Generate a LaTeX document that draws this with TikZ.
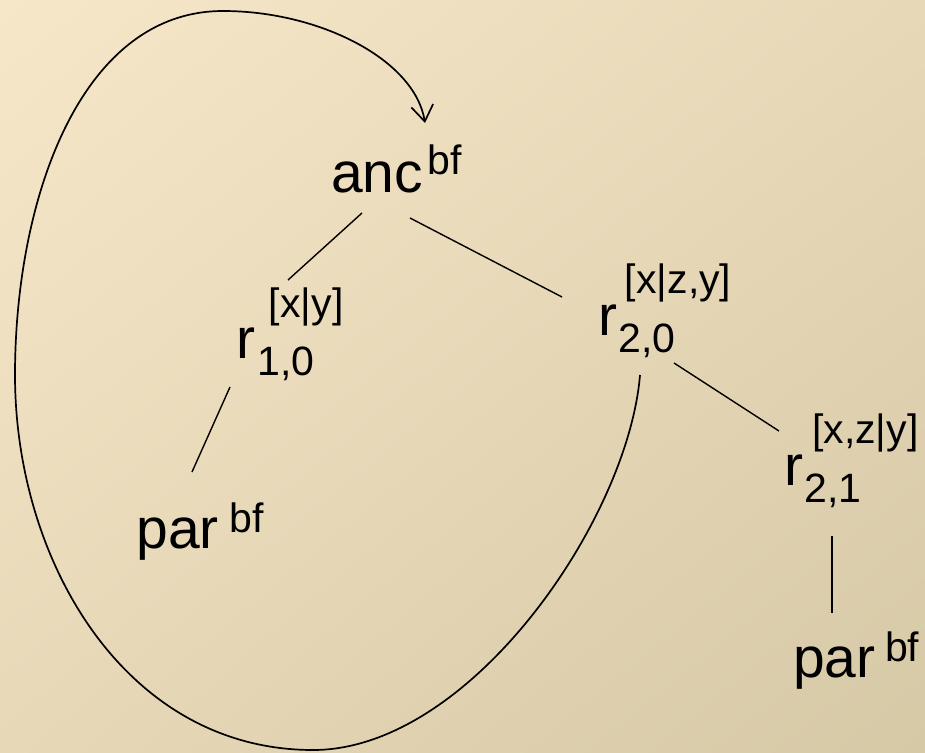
\documentclass[tikz,border=0pt]{standalone}
\usepackage{fontspec}
\setmainfont{Liberation Sans}
\usetikzlibrary{calc,arrows.meta,shadings}
\definecolor{bgA}{RGB}{246,231,201}
\definecolor{bgM}{RGB}{231,216,184}
\definecolor{bgB}{RGB}{214,201,166}
\newcommand\bigfnt{\fontsize{57}{62}\selectfont}
\newcommand\supfnt{\fontsize{41}{44}\selectfont}
\newcommand\idxfnt{\fontsize{41}{44}\selectfont}
\tikzset{
  lbl/.style={anchor=base west, inner sep=0pt, outer sep=0pt, font=\bigfnt},
  edge/.style={line width=1.4pt, black},
  loop/.style={line width=1.7pt, black, -{Straight Barb[length=16pt,width=22pt,line width=1.7pt]}}
}
\begin{document}
\begin{tikzpicture}[x=1pt,y=-1pt]
\useasboundingbox (0,0) rectangle (925,752);
\shade[upper left=bgA, upper right=bgM, lower left=bgM, lower right=bgB] (0,0) rectangle (925,752);

\node[lbl] (anc) at (331,192) {anc\hspace{4.5pt}\raisebox{18pt}{\supfnt bf}};
\node[lbl] (r10) at (236,358) {r\rlap{\raisebox{-17pt}{\idxfnt\hspace{2.6pt}1,0}}\hspace{14pt}\raisebox{41pt}{\idxfnt [x|y]}};
\node[lbl] (r20) at (598,335) {r\rlap{\raisebox{-17pt}{\idxfnt\hspace{1.8pt}2,0}}\hspace{8pt}\raisebox{42pt}{\idxfnt [x|z,y]}};
\node[lbl] (r21) at (784.4,485) {r\rlap{\raisebox{-17pt}{\idxfnt\hspace{1.4pt}2,1}}\hspace{8.8pt}\raisebox{42pt}{\idxfnt [x,z|y]}};
\node[lbl] (parL) at (136.4,548) {par\hspace{10.5pt}\raisebox{16pt}{\supfnt bf}};
\node[lbl] (parR) at (793.2,677) {par\hspace{9.5pt}\raisebox{16pt}{\supfnt bf}};

\draw[edge] ($(anc.base west)+(31,21)$) -- ($(r10.base west)+(52,-78)$);
\draw[edge] ($(anc.base west)+(79,26)$) -- ($(r20.base west)+(-36,-38)$);
\draw[edge] ($(r10.base west)+(-6,29)$) -- ($(parL.base west)+(55.6,-76)$);
\draw[edge] ($(r20.base west)+(76,28)$) -- ($(r21.base west)+(-5.4,-54)$);
\draw[edge] ($(r21.base west)+(47.6,51)$) -- ($(parR.base west)+(38.8,-64)$);

\draw[loop] ($(r20.base west)+(42,40)$)
  .. controls (628,520) and (470,750) .. (313,750)
  .. controls (126,750) and (15,562) .. (15,375)
  .. controls (15,200) and (80,11) .. (223,11)
  .. controls (320,11) and (415,60) .. ($(anc.base west)+(94,-69)$);
\end{tikzpicture}
\end{document}
